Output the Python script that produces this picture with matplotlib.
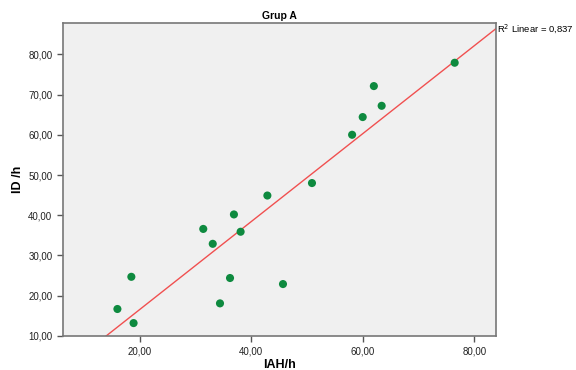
import numpy as np
import matplotlib.pyplot as plt
from matplotlib.ticker import FuncFormatter

plt.rcParams['font.family'] = ['Liberation Sans', 'DejaVu Sans']

# Значення
iah = [16.0, 18.5, 18.9, 31.4, 33.1, 36.9, 38.1, 36.2, 34.4, 42.9, 45.7,
       50.9, 58.1, 60.0, 62.0, 63.4, 76.5]
id_h = [16.7, 24.7, 13.2, 36.6, 32.9, 40.2, 35.9, 24.4, 18.1, 44.9, 22.9,
        48.0, 60.0, 64.4, 72.1, 67.2, 77.9]
x_ticks = [20, 40, 60, 80]
y_ticks = [10, 20, 30, 40, 50, 60, 70, 80]
r2_label = 'R$^2$ Linear = 0,837'

x = np.array(iah)
y = np.array(id_h)

fig = plt.figure(figsize=(5.76, 3.70), dpi=100)
ax = fig.add_axes([0.109, 0.092, 0.752, 0.845])
ax.set_facecolor('#f0f0f0')

ax.scatter(x, y, s=34, color='#0e8a3f', edgecolors='none', zorder=3,
           marker='o')

# Лінія регресії
slope, intercept = np.polyfit(x, y, 1)
xlim = (6.2, 83.9)
ylim = (10, 87.7)
xs = np.array(xlim)
ax.plot(xs, slope * xs + intercept, color='#f05050', lw=1, zorder=2)

ax.set_xlim(*xlim)
ax.set_ylim(*ylim)
ax.set_xticks(x_ticks)
ax.set_yticks(y_ticks)
fmt = FuncFormatter(lambda v, p: f'{v:.2f}'.replace('.', ','))
ax.xaxis.set_major_formatter(fmt)
ax.yaxis.set_major_formatter(fmt)
ax.tick_params(labelsize=7, labelcolor='#222222', length=4, width=1,
               color='#555555')

for side in ['top', 'right', 'bottom', 'left']:
    ax.spines[side].set_color('#777777')
    ax.spines[side].set_linewidth(1.2)

ax.set_title('Grup A', fontsize=7.5, fontweight='bold', pad=3)
ax.set_xlabel('IAH/h', fontsize=9, fontweight='bold', labelpad=2)
ax.set_ylabel('ID /h', fontsize=9, fontweight='bold', labelpad=3)

ax.text(1.002, slope * xlim[1] + intercept, r2_label,
        transform=ax.get_yaxis_transform(), fontsize=6.8,
        va='center', ha='left', clip_on=False)

fig.savefig('out.png', dpi=100)
